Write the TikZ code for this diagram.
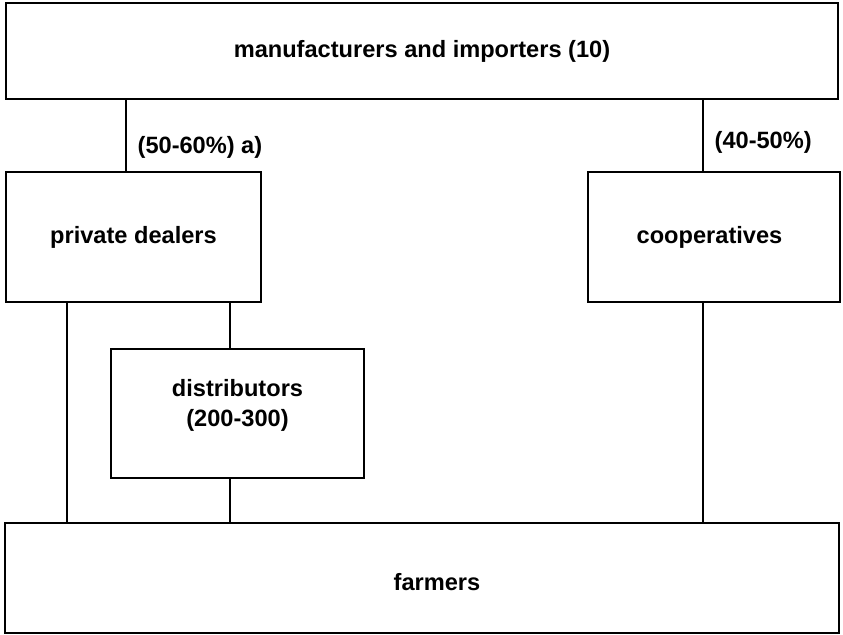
\documentclass[tikz,border=0pt]{standalone}
\usepackage{fontspec}
\setmainfont{Liberation Sans}

\begin{document}
\begin{tikzpicture}[x=0.5pt,y=-0.5pt,
    box/.style={draw,line width=1pt,rectangle,inner sep=0pt,
      font=\fontsize{11.8}{15}\selectfont\bfseries,align=center},
    link/.style={line width=1pt},
    share/.style={right,font=\fontsize{11.8}{15}\selectfont\bfseries}]
    \useasboundingbox (0,0) rectangle (843,634);
    \node[box,minimum width=416pt,minimum height=48pt] (makers) at (422,51)
      {manufacturers and importers (10)};
    \node[box,minimum width=127.5pt,minimum height=65pt] (dealers) at (133.5,237)
      {private dealers};
    \node[box,minimum width=126pt,minimum height=65pt] (coops) at (714,237)
      {cooperatives\hspace*{4.5pt}};
    \node[box,minimum width=126.5pt,minimum height=64.5pt,text depth=11pt] (distrib) at (237.5,413.5)
      {distributors\\(200-300)};
    \node[box,minimum width=417pt,minimum height=55pt,text height=12.5pt] (farmers) at (422,578)
      {\hspace*{15pt}farmers};
    \draw[link] (makers.south -| 126,0) --
      node[share,pos=0.67,xshift=2pt] {(50-60\%) a)} (dealers.north -| 126,0);
    \draw[link] (makers.south -| 703,0) --
      node[share,pos=0.6,xshift=2pt] {(40-50\%)} (coops.north -| 703,0);
    \draw[link] (dealers.south -| 67,0) -- (farmers.north -| 67,0);
    \draw[link] (dealers.south -| 230,0) -- (distrib.north -| 230,0);
    \draw[link] (distrib.south -| 230,0) -- (farmers.north -| 230,0);
    \draw[link] (coops.south -| 703,0) -- (farmers.north -| 703,0);
\end{tikzpicture}
\end{document}
